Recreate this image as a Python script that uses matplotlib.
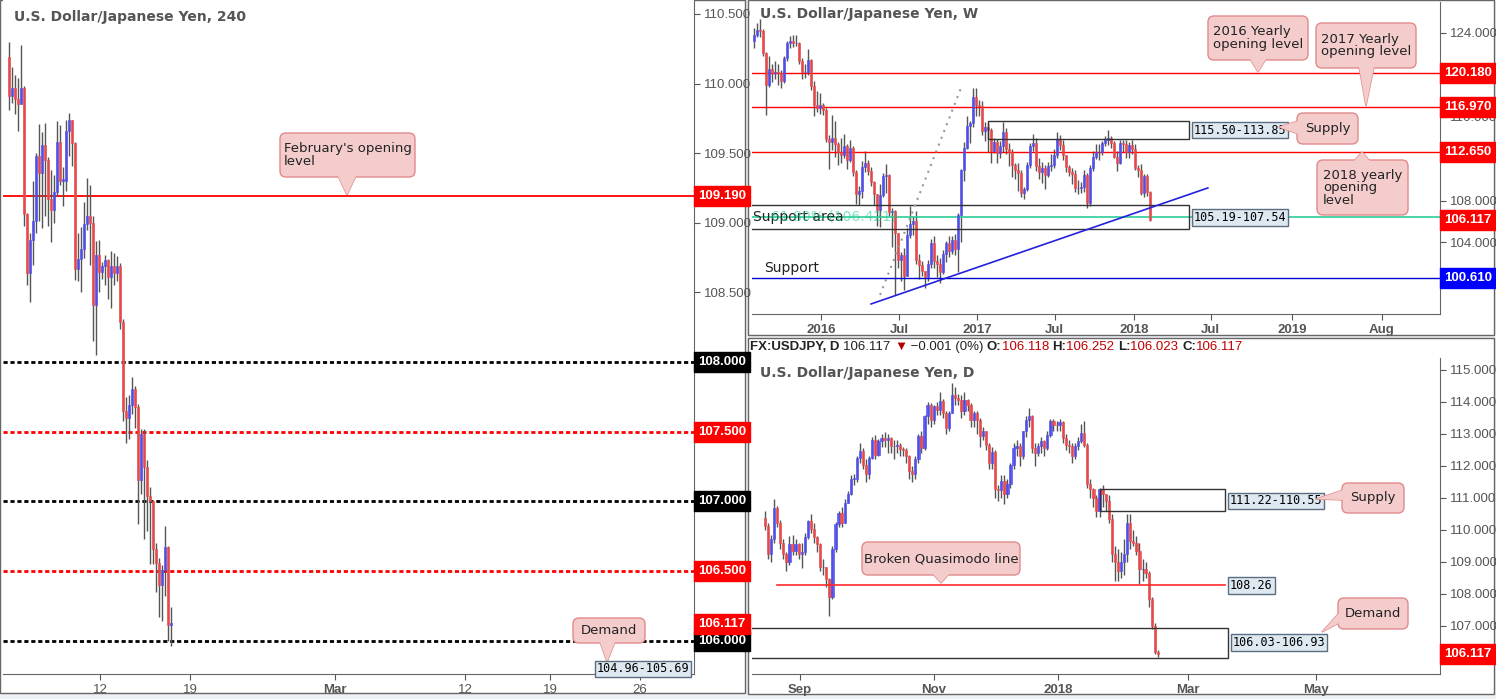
import numpy as np
import matplotlib
matplotlib.use("Agg")
import matplotlib.pyplot as plt
from matplotlib.patches import FancyBboxPatch, Polygon, Rectangle

W, H = 1496, 699
UP, DN, WICK = "#4f4ff0", "#f04a4a", "#555555"
TXT = "#555555"
NARROW = "Liberation Sans"

# ---------------- 4H panel data (Feb 2018) ----------------
h4_open0 = 110.19
h4_close = [109.91, 109.97, 109.89, 109.85, 109.97, 109.06, 108.64, 108.88, 109.01, 109.48,
            109.36, 109.56, 109.45, 109.17, 109.09, 109.22, 109.58, 109.30, 109.30, 109.66,
            109.74, 109.57, 108.67, 108.74, 108.81, 108.99, 109.05, 109.00, 108.41, 108.77,
            108.65, 108.69, 108.73, 108.61, 108.69, 108.64, 108.69, 108.29, 107.65, 107.60,
            107.69, 107.81, 107.68, 107.15, 107.48, 107.25, 107.04, 107.00, 106.66, 106.56,
            106.40, 106.51, 106.67, 106.11, 106.12]
h4_high = [110.30, 110.12, 110.06, 110.04, 110.28, 109.98, 109.07, 108.93, 109.30, 109.50,
           109.71, 109.65, 109.72, 109.47, 109.38, 109.34, 109.73, 109.70, 109.40, 109.74,
           109.79, 109.74, 109.58, 108.93, 108.97, 109.15, 109.32, 109.27, 109.05, 108.87,
           108.88, 108.72, 108.77, 108.74, 108.80, 108.78, 108.76, 108.71, 108.31, 107.75,
           107.76, 107.89, 107.83, 107.70, 107.52, 107.52, 107.30, 107.10, 106.99, 106.70,
           106.59, 106.54, 106.82, 106.68, 106.24]
h4_low = [109.81, 109.86, 109.78, 109.66, 109.85, 108.98, 108.55, 108.43, 108.70, 108.93,
          109.01, 108.96, 109.05, 108.98, 108.86, 109.00, 109.19, 109.27, 109.12, 109.23,
          109.48, 109.41, 108.59, 108.58, 108.50, 108.75, 108.95, 108.70, 108.15, 108.05,
          108.50, 108.60, 108.55, 108.45, 108.39, 108.55, 108.58, 108.24, 107.58, 107.42,
          107.45, 107.63, 107.53, 106.84, 107.05, 106.73, 106.79, 106.55, 106.55, 106.35,
          106.17, 106.14, 106.32, 106.00, 105.96]
h4_ticks = [31.3, 61.3, 109.7, 153, 181.3, 211.3]
h4_ticklabels = ["12", "19", "Mar", "12", "19", "26"]
h4_levels = [(109.19, "#ff0000", "-"), (108.0, "black", "--"), (107.5, "#ff0000", "--"),
             (107.0, "black", "--"), (106.5, "#ff0000", "--"), (106.0, "black", "--")]

# ---------------- Weekly panel data (Jul 2015 - Feb 2018) ----------------
wk_open0 = 123.2
wk_close = [123.8, 124.3, 124.2, 122.1, 119.0, 120.6, 120.2, 120.3, 120.2, 119.4, 121.6, 123.0,
            123.2, 123.0, 123.0, 121.3, 120.3, 120.3, 121.4, 118.9, 117.1, 116.8, 117.1,
            116.6, 113.9, 113.6, 114.0, 113.4, 112.6, 112.3, 113.2, 111.9, 113.0, 110.7, 108.6,
            108.9, 111.2, 111.6, 110.8, 109.8, 108.6, 107.1, 108.5, 110.3, 110.4, 106.9, 107.0,
            104.9, 102.3,
            102.8, 100.8, 104.7, 105.8, 106.0, 102.3, 101.8, 101.3, 100.7, 101.9, 103.9, 102.2,
            101.9, 101.2, 102.9, 103.9, 103.2, 104.2, 103.4, 106.6, 110.9, 113.0, 115.1, 115.4,
            117.9, 117.1,
            117.0, 114.6, 115.0, 114.7, 112.7, 113.6, 112.5, 113.2, 114.5, 112.9, 112.6, 111.4,
            110.9, 110.6, 108.7, 109.1, 111.4, 113.2, 113.5, 111.3, 110.7, 111.1, 110.4, 111.3,
            111.4, 112.3,
            113.9, 113.3, 112.3, 111.2, 110.7, 110.5, 109.2, 109.2, 109.3, 110.4, 107.8, 111.1,
            112.2, 112.6, 112.6, 113.5, 113.8, 114.0, 113.5, 112.2, 111.6, 113.5, 113.4, 112.6,
            113.3, 112.9,
            111.1, 110.9, 108.7, 110.3, 108.8, 106.1]
wk_high = [124.5, 125.0, 125.3, 124.4, 122.2, 121.8, 121.0, 121.3, 121.0, 120.5, 121.8, 123.2,
           123.7, 123.8, 123.8, 123.1, 121.6, 121.0, 122.5, 121.5, 119.4, 118.5, 118.3,
           117.3, 116.8, 114.3, 116.2, 115.6, 113.6, 114.0, 114.4, 113.4, 113.8, 113.2, 110.9,
           109.4, 111.8, 112.7, 111.9, 111.2, 109.9, 108.3, 109.6, 110.6, 111.5, 110.5, 107.3,
           107.1, 104.5,
           103.1, 103.5, 105.4, 107.5, 106.5, 107.0, 102.9, 102.2, 101.3, 102.3, 104.3, 104.6,
           102.8, 102.5, 103.3, 104.1, 104.6, 104.6, 104.8, 106.8, 111.0, 113.6, 116.1, 115.6,
           118.7, 118.7,
           117.6, 117.5, 115.5, 115.4, 114.9, 114.0, 113.9, 113.7, 115.5, 114.9, 113.5, 112.9,
           111.6, 111.6, 110.9, 109.3, 111.7, 113.5, 114.4, 114.0, 112.1, 111.7, 111.4, 111.7,
           112.4, 112.9,
           114.5, 114.3, 113.8, 112.3, 111.4, 111.1, 110.9, 110.0, 109.8, 110.9, 110.6, 111.4,
           112.7, 113.4, 113.4, 113.7, 114.2, 114.7, 114.2, 113.7, 112.7, 113.8, 113.8, 113.8,
           113.6, 113.8,
           113.4, 111.4, 111.5, 110.5, 110.5, 108.9]
wk_low = [122.6, 123.6, 123.6, 121.8, 116.2, 118.8, 119.3, 119.6, 119.0, 118.7, 119.2, 121.3,
          122.6, 122.7, 122.8, 121.0, 119.6, 119.7, 120.0, 118.6, 116.1, 116.5, 116.3,
          116.2, 113.6, 111.0, 112.8, 112.2, 111.4, 111.6, 112.1, 111.0, 111.7, 110.3, 107.7,
          107.6, 108.2, 110.7, 110.4, 109.4, 107.6, 105.6, 105.5, 108.3, 108.7, 106.5, 103.6,
          99.0, 101.6,
          100.3, 99.5, 100.8, 104.4, 104.7, 101.9, 100.5, 100.8, 99.6, 100.3, 101.6, 101.6,
          100.7, 100.1, 101.0, 102.1, 102.6, 102.9, 102.8, 101.2, 104.0, 109.9, 112.9, 113.5,
          115.0, 116.1,
          116.1, 114.3, 113.7, 112.6, 111.6, 112.5, 111.6, 112.1, 112.6, 112.4, 111.3, 110.2,
          110.1, 108.9, 108.3, 108.1, 108.9, 111.1, 112.7, 110.8, 110.1, 109.7, 109.1, 110.2,
          110.8, 111.1,
          112.1, 112.8, 111.9, 110.7, 110.3, 109.6, 108.8, 108.6, 108.7, 108.8, 107.3, 107.5,
          110.8, 112.0, 111.9, 112.3, 113.2, 113.3, 113.0, 112.1, 110.8, 111.5, 112.6, 112.1,
          112.1, 112.4,
          110.9, 110.2, 108.5, 108.3, 108.4, 106.0]
wk_ticks = [-109.7, -83.7, -57.7, -31.7, -5.3, 20.3, 47.3, 77.3]
wk_ticklabels = ["2016", "Jul", "2017", "Jul", "2018", "Jul", "2019", "Aug"]

# ---------------- Daily panel data (Aug 2017 - Feb 2018) ----------------
d_open0 = 110.38
d_close = [110.12, 109.24, 109.70, 110.69, 110.22, 109.60, 109.24, 108.98, 109.55, 109.34,
           109.55, 109.24, 109.29, 109.76, 110.27, 110.02, 109.76, 109.55, 108.82, 108.82,
           108.46, 107.89, 109.39, 110.17, 110.53, 110.22, 110.85, 111.11, 111.60, 111.60,
           112.25, 112.46, 112.04, 111.73, 112.25, 112.82, 112.35, 112.77, 112.87, 112.82,
           112.87, 112.61, 112.61, 112.66, 112.51, 112.48, 112.30, 111.83, 111.73, 112.20,
           112.92, 112.56, 113.55, 113.91, 113.44, 113.86, 113.75, 114.01, 113.65, 113.18,
           113.65, 114.22, 114.12, 114.07, 113.70, 114.07, 113.91, 113.44, 113.65, 113.44,
           112.92, 113.08, 112.66, 112.09, 112.44, 111.26, 111.23, 111.52, 111.11, 111.42,
           112.04, 112.56, 112.61, 112.30, 113.08, 113.44, 113.55, 112.56, 112.40, 112.61,
           112.77, 112.56, 112.97, 113.39, 113.29, 113.26, 113.37, 112.87, 112.66, 112.61,
           112.30, 112.61, 112.77, 113.03, 112.66, 111.42, 111.26, 111.00, 110.59, 111.26,
           111.11, 110.90, 110.33, 109.24, 108.98, 108.72, 109.00, 109.24, 110.22, 109.65,
           109.60, 109.34, 108.77, 108.77, 108.66, 107.83, 107.00, 106.17, 106.12]
d_high = [110.60, 110.20, 109.85, 110.95, 110.75, 110.30, 109.70, 109.30, 109.80, 109.85,
          109.70, 109.60, 109.60, 109.90, 110.30, 110.50, 110.20, 109.80, 109.60, 109.10,
          108.80, 108.50, 109.50, 110.25, 110.60, 110.70, 110.95, 111.20, 111.70, 111.75,
          112.30, 112.70, 112.55, 112.20, 112.30, 112.90, 112.95, 112.85, 113.00, 113.05,
          113.00, 112.90, 112.80, 112.80, 112.70, 112.60, 112.55, 112.35, 112.00, 112.30,
          113.00, 113.10, 113.60, 114.00, 113.95, 113.90, 114.00, 114.30, 114.10, 113.70,
          113.70, 114.60, 114.45, 114.25, 114.20, 114.30, 114.10, 113.95, 113.70, 113.70,
          113.50, 113.20, 113.10, 112.70, 112.60, 112.50, 111.40, 111.70, 111.70, 111.60,
          112.10, 112.70, 112.80, 112.70, 113.10, 113.55, 113.80, 113.60, 112.70, 112.70,
          112.90, 112.80, 113.10, 113.45, 113.45, 113.40, 113.45, 113.40, 113.00, 112.80,
          112.70, 112.70, 112.90, 113.30, 113.40, 112.70, 111.60, 111.30, 111.10, 111.30,
          111.40, 111.10, 111.10, 110.50, 109.50, 109.40, 109.30, 109.70, 110.50, 110.50,
          110.00, 109.80, 109.60, 109.10, 109.00, 108.70, 107.90, 107.10, 106.25]
d_low = [110.00, 109.10, 109.00, 109.60, 110.10, 109.40, 109.10, 108.70, 108.90, 109.20,
         109.20, 109.10, 108.80, 109.20, 109.70, 109.90, 109.60, 109.30, 108.70, 108.60,
         108.20, 107.30, 107.85, 109.30, 110.10, 110.10, 110.40, 110.90, 111.10, 111.40,
         111.50, 112.10, 111.90, 111.50, 111.60, 112.20, 112.20, 112.30, 112.60, 112.60,
         112.40, 112.40, 112.20, 112.40, 112.30, 112.30, 112.10, 111.60, 111.50, 111.60,
         112.10, 112.40, 112.50, 113.30, 113.20, 113.30, 113.60, 113.60, 113.50, 113.00,
         113.10, 113.90, 113.90, 113.90, 113.50, 113.60, 113.70, 113.20, 113.20, 113.00,
         112.60, 112.80, 112.50, 111.90, 111.90, 111.00, 110.90, 111.00, 110.80, 111.00,
         111.30, 111.90, 112.30, 112.00, 112.20, 112.90, 113.20, 112.40, 112.00, 112.30,
         112.40, 112.30, 112.50, 112.90, 113.10, 113.10, 113.10, 112.70, 112.50, 112.40,
         112.10, 112.20, 112.50, 112.70, 112.60, 111.30, 111.00, 110.70, 110.40, 110.40,
         110.70, 110.60, 110.20, 109.00, 108.40, 108.40, 108.50, 108.60, 109.00, 109.40,
         109.50, 109.20, 108.30, 108.40, 108.50, 107.60, 106.90, 106.10, 106.02]
d_ticks = [-116.6, -73.0, -32.6, 9.8, 51.5]
d_ticklabels = ["Sep", "Nov", "2018", "Mar", "May"]


def candles(ax, x, open0, close, high, low, width):
    c = np.array(close)
    o = np.concatenate([[open0], c[:-1]])
    hi = np.maximum(np.array(high), np.maximum(o, c))
    lo = np.minimum(np.array(low), np.minimum(o, c))
    cols = [UP if cc >= oo else DN for oo, cc in zip(o, c)]
    ax.vlines(x, lo, hi, color=WICK, lw=1, zorder=2)
    ax.bar(x, np.maximum(np.abs(c - o), 0.015), bottom=np.minimum(o, c), width=width,
           color=cols, edgecolor=cols, lw=0.5, zorder=3, alpha=0.9)


def style(ax, ticks, labels, yticks):
    ax.set_facecolor("white")
    ax.yaxis.tick_right()
    ax.set_yticks(yticks)
    ax.set_yticklabels(["%.3f" % v for v in yticks], family=NARROW)
    ax.set_xticks(ticks)
    ax.set_xticklabels(labels, family=NARROW)
    ax.tick_params(colors=TXT, labelsize=9.5, length=4)
    for t in ax.get_xticklabels():
        if not t.get_text().isdigit() or len(t.get_text()) == 4:
            t.set_fontweight("bold")
    for s in ["top", "left"]:
        ax.spines[s].set_visible(False)
    for s in ["right", "bottom"]:
        ax.spines[s].set_color("#666666")


def tag(ax, price, text, color):
    ax.annotate(text, xy=(1.0, price), xycoords=ax.get_yaxis_transform(),
                xytext=(3, 0), textcoords="offset points", va="center", ha="left",
                fontsize=9.5, family=NARROW, color="white", fontweight="bold",
                annotation_clip=False,
                bbox=dict(boxstyle="square,pad=0.3", fc=color, ec=color), zorder=20)


def vbox(ax, x, price, text):
    ax.text(x, price, text, fontsize=8.5, family="DejaVu Sans Mono", va="center", ha="left",
            bbox=dict(boxstyle="square,pad=0.15", fc="#dde8f0", ec="#5a6e80"), zorder=6,
            clip_on=False)


def ax_rect(l, t, r, b):
    return [l / W, 1 - b / H, (r - l) / W, (b - t) / H]


fig = plt.figure(figsize=(W / 100, H / 100), dpi=100)
fig.patch.set_facecolor("#eef1f5")

bg = fig.add_axes([0, 0, 1, 1], zorder=0)
bg.set_xlim(0, W); bg.set_ylim(H, 0); bg.axis("off")
for (l, t, r, b) in [(0, 0, 745, 693), (748, 0, 1494, 335), (748, 338, 1494, 694)]:
    bg.add_patch(Rectangle((l, t), r - l, b - t, fc="white", ec="#666666", lw=1))

# ---- left 4H ----
a1 = fig.add_axes(ax_rect(3, 0, 694, 674), zorder=1)
x1 = np.arange(len(h4_close)) + 1
candles(a1, x1, h4_open0, h4_close, h4_high, h4_low, 0.85)
for p, col, ls in h4_levels:
    if ls == "-":
        a1.axhline(p, color=col, lw=1.3, zorder=1)
    else:
        a1.axhline(p, color=col, lw=2, ls=(0, (1.5, 1)), zorder=1)
a1.set_xlim(-1, 229.3)
a1.set_ylim(105.76, 110.60)
style(a1, h4_ticks, h4_ticklabels, [108.5, 109.0, 109.5, 110.0, 110.5])
for p, col, _ in h4_levels:
    tag(a1, p, "%.3f" % p, "#ff0000" if col != "black" else "black")
tag(a1, 106.117, "106.117", "#ff0000")
a1.text(0.016, 0.985, "U.S. Dollar/Japanese Yen, 240", transform=a1.transAxes, fontsize=10,
        color=TXT, fontweight="semibold", va="top")

# ---- weekly ----
a2 = fig.add_axes(ax_rect(752, 2, 1440, 314), zorder=1)
x2 = np.arange(len(wk_close)) - (len(wk_close) - 1)
candles(a2, x2, wk_open0, wk_close, wk_high, wk_low, 0.75)
for p in [120.18, 116.97, 112.65]:
    a2.axhline(p, color="#ff0000", lw=1)
a2.axhline(100.61, color="#0000cc", lw=1)
a2.axhline(106.45, color="#2ecc9a", lw=1.2)
a2.add_patch(Rectangle((-54, 113.9), 67, 1.7, fill=False, ec="#333333", lw=1, zorder=4))
a2.add_patch(Rectangle((-140, 105.28), 153, 2.29, fill=False, ec="#333333", lw=1, zorder=4))
a2.plot([-93, 19.3], [98.12, 109.2], color="#2222dd", lw=1.2, zorder=5)
a2.plot([-90, -63], [98.98, 118.75], color="#999999", lw=1.5, ls=(0, (1, 2.5)), zorder=5)
a2.set_xlim(-132.7, 96.7)
a2.set_ylim(97.16, 126.96)
style(a2, wk_ticks, wk_ticklabels, [100, 104, 108, 112, 116, 124])
for p in [120.18, 116.97, 112.65, 106.117]:
    tag(a2, p, "%.3f" % p, "#ff0000")
tag(a2, 100.61, "100.610", "#0000ff")
vbox(a2, 14.7, 114.72, "115.50-113.85")
vbox(a2, 14.7, 106.4, "105.19-107.54")
a2.text(-132.3, 106.4, "Support area", fontsize=10, color="#222222", va="center", zorder=6)
a2.text(-126.5, 106.5, "61.80% (106.421)", fontsize=10, color="#2ecc9a", alpha=0.6, va="center", zorder=7)
a2.text(-128.7, 101.6, "Support", fontsize=10, color="#222222", va="center", zorder=6)
a2.text(0.012, 0.985, "U.S. Dollar/Japanese Yen, W", transform=a2.transAxes, fontsize=10,
        color=TXT, fontweight="semibold", va="top")

# ---- daily ----
a3 = fig.add_axes(ax_rect(752, 358, 1440, 674), zorder=1)
x3 = np.arange(len(d_close)) - (len(d_close) - 1)
candles(a3, x3, d_open0, d_close, d_high, d_low, 0.75)
a3.plot([-124, 22], [108.26, 108.26], color="#ff2a2a", lw=1.2, zorder=4)
a3.add_patch(Rectangle((-19, 110.58), 41, 0.68, fill=False, ec="#333333", lw=1, zorder=4))
a3.add_patch(Rectangle((-140, 105.98), 163, 0.94, fill=False, ec="#333333", lw=1, zorder=4))
a3.set_xlim(-132.2, 91.9)
a3.set_ylim(105.49, 115.37)
style(a3, d_ticks, d_ticklabels, [107, 108, 109, 110, 111, 112, 113, 114, 115])
tag(a3, 106.117, "106.117", "#ff0000")
vbox(a3, 23.5, 110.9, "111.22-110.55")
vbox(a3, 23.5, 108.26, "108.26")
vbox(a3, 24.5, 106.48, "106.03-106.93")
a3.text(0.012, 0.975, "U.S. Dollar/Japanese Yen, D", transform=a3.transAxes, fontsize=10,
        color=TXT, fontweight="semibold", va="top")

# ---- overlay: callouts and header ----
fg = fig.add_axes([0, 0, 1, 1], zorder=10)
fg.set_xlim(0, W); fg.set_ylim(H, 0); fg.axis("off")
fg.patch.set_alpha(0)


def callout(l, t, r, b, tip, base, text, fs=9.5):
    fg.add_patch(Polygon([base[0], tip, base[1]], closed=True, fc="#f4cccc", ec="#e08a8a", lw=1))
    fg.add_patch(FancyBboxPatch((l + 6, t + 6), r - l - 12, b - t - 12,
                                boxstyle="round,pad=6", fc="#f4cccc", ec="#e08a8a", lw=1))
    fg.add_patch(Polygon([base[0], tip, base[1]], closed=True, fc="#f4cccc", ec="none", lw=0))
    fg.text((l + r) / 2, (t + b) / 2, text, fontsize=fs, color="#222222", va="center",
            ha="center", multialignment="left", linespacing=0.95)


callout(280, 133, 415, 177, (347, 195), [(338, 176), (356, 176)], "February's opening\nlevel")
callout(573, 618, 645, 643, (607, 662), [(600, 642), (615, 642)], "Demand")
callout(1208, 16, 1308, 60, (1258, 72), [(1250, 59), (1266, 59)], "2016 Yearly\nopening level")
callout(1316, 23, 1416, 68, (1366, 106), [(1359, 67), (1374, 67)], "2017 Yearly\nopening level")
callout(1297, 113, 1358, 144, (1279, 127), [(1298, 121), (1298, 134)], "Supply")
callout(1317, 160, 1408, 215, (1362, 152), [(1354, 161), (1370, 161)], "2018 yearly\nopening\nlevel")
callout(862, 542, 1020, 575, (941, 583), [(933, 574), (949, 574)], "Broken Quasimodo line")
callout(1342, 483, 1404, 513, (1316, 499), [(1343, 490), (1343, 500)], "Supply")
callout(1338, 598, 1408, 629, (1322, 632), [(1339, 613), (1339, 623)], "Demand")

fg.text(597, 669, "104.96-105.69", fontsize=8.5, family="DejaVu Sans Mono", va="center",
        bbox=dict(boxstyle="square,pad=0.15", fc="#dde8f0", ec="#5a6e80"))

hy = 347
parts = [("FX:USDJPY, D ", "#222222", "bold"), ("106.117 ", "#222222", "normal"),
         ("\u25bc", "#b00000", "normal"), (" \u22120.001 (0%) ", "#222222", "normal"),
         ("O:", "#222222", "bold"), ("106.118 ", "#c00000", "normal"),
         ("H:", "#222222", "bold"), ("106.252 ", "#c00000", "normal"),
         ("L:", "#222222", "bold"), ("106.023 ", "#c00000", "normal"),
         ("C:", "#222222", "bold"), ("106.117", "#c00000", "normal")]
fig.canvas.draw()
rend = fig.canvas.get_renderer()
px = 750
for s, col, wgt in parts:
    t = fg.text(px, hy, s, fontsize=9.5, family=["Liberation Sans", "DejaVu Sans"], color=col,
                fontweight=wgt, va="center", ha="left")
    px += t.get_window_extent(rend).width

fig.savefig("out.png", dpi=100, facecolor=fig.get_facecolor())
